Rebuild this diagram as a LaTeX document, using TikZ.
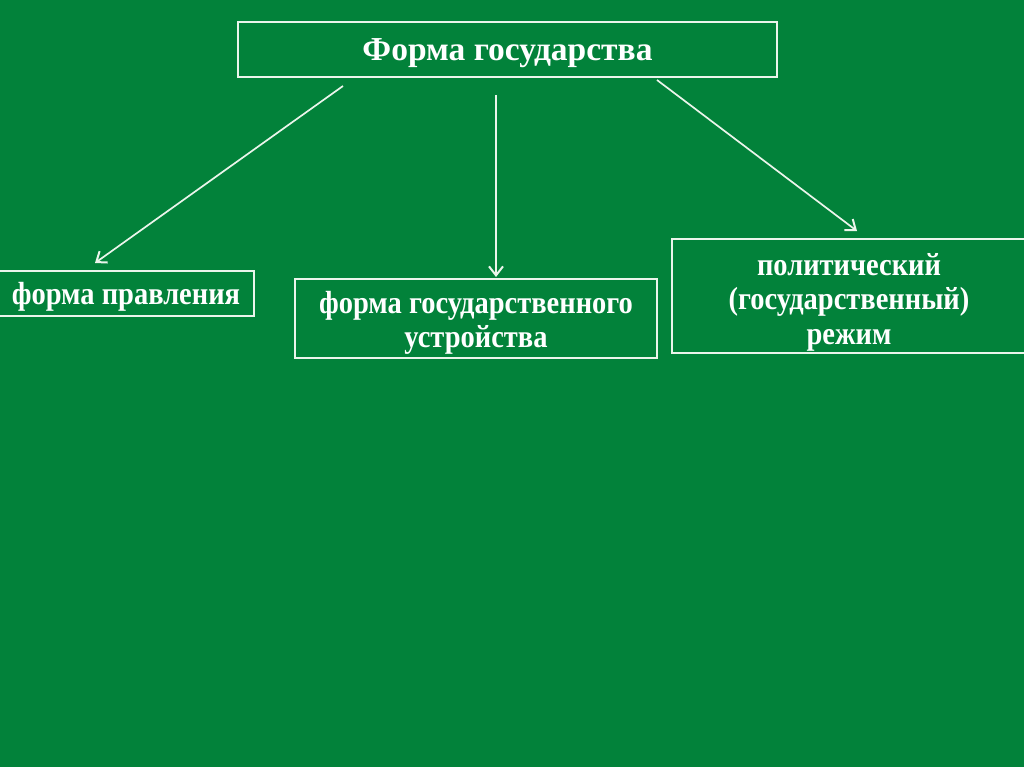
\documentclass[tikz,border=0pt]{standalone}
\usepackage{fontspec}
\setmainfont{Liberation Serif}
\newfontfamily\narrowserif[FakeStretch=0.89]{Liberation Serif}
\usetikzlibrary{arrows.meta}
\definecolor{bg}{RGB}{2,130,58}
\definecolor{ln}{RGB}{235,245,235}
\newcommand{\lowered}[2]{\raisebox{-#1}[\height][\depth]{#2}}
\begin{document}
\begin{tikzpicture}[x=1pt,y=-1pt,
  box/.style={draw=ln,line width=1.6pt,inner sep=0pt,text=white,align=center},
  small/.style={font=\narrowserif\fontsize{32}{34.5}\selectfont\bfseries},
  conn/.style={draw=ln,line width=1.7pt,-{Straight Barb[length=9pt,width=14pt,line width=2pt]}}]
\fill[bg] (0,0) rectangle (1024,767);
\useasboundingbox (0,0) rectangle (1024,767);
\node[box,minimum width=539pt,minimum height=55pt,font=\fontsize{33.5}{38}\selectfont\bfseries] (top) at (507.5,49.5) {\lowered{3.5pt}{Форма государства}};
\node[box,small,minimum width=256pt,minimum height=45pt] (left) at (126,293.5) {\lowered{3pt}{форма правления}};
\node[box,small,minimum width=362pt,minimum height=79pt] (mid) at (476,318.5) {\lowered{4.5pt}{форма государственного}\\\lowered{4.5pt}{устройства}};
\node[box,small,minimum width=354pt,minimum height=114pt] (right) at (849,296) {\lowered{6pt}{политический}\\\lowered{6pt}{(государственный)}\\\lowered{6pt}{режим}};
\coordinate (s1) at (343,86);
\coordinate (e1) at (95,263);
\coordinate (s2) at (496,95);
\coordinate (e2) at (496,277);
\coordinate (s3) at (657,80);
\coordinate (e3) at (857,231);
\draw[conn] (s1) -- (e1);
\draw[conn] (s2) -- (e2);
\draw[conn] (s3) -- (e3);
\end{tikzpicture}
\end{document}
